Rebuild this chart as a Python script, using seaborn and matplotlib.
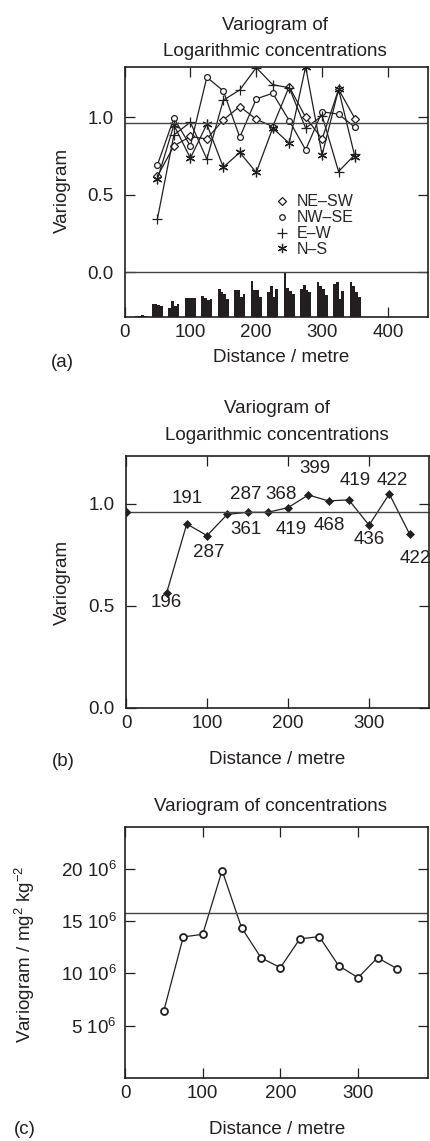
import matplotlib
matplotlib.use('Agg')
import matplotlib.pyplot as plt
from matplotlib.lines import Line2D
import seaborn as sns
import numpy as np
import pandas as pd

# lag distances (m) of the experimental variograms
lags = [50, 75, 100, 125, 150, 175, 200, 225, 250, 275, 300, 325, 350]

# (a) directional variograms of log concentrations
ne_sw = [0.62, 0.815, 0.876, 0.86, 0.983, 1.069, 0.987, 0.94, 1.197, 1.00, 0.86, 1.18, 0.99]
nw_se = [0.693, 0.994, 0.815, 1.258, 1.17, 0.871, 1.118, 1.155, 0.979, 0.79, 1.035, 1.02, 0.935]
e_w = [0.345, 0.886, 0.968, 0.73, 1.11, 1.176, 1.32, 1.21, 1.19, 0.93, 1.01, 0.65, 0.76]
n_s = [0.60, 0.95, 0.736, 0.955, 0.678, 0.773, 0.644, 0.93, 0.833, 1.326, 0.757, 1.18, 0.742]
sill_log = 0.963

# number of pairs per direction (histogram under panel a)
hist_lags = [25, 50, 75, 100, 125, 150, 175, 200, 225, 250, 275, 300, 325, 350]
pairs_ne_sw = [2, 36, 25, 52, 56, 76, 72, 97, 68, 120, 76, 95, 89, 94]
pairs_nw_se = [4, 36, 43, 50, 50, 68, 73, 73, 84, 79, 86, 82, 94, 82]
pairs_e_w = [6, 32, 29, 50, 47, 61, 55, 73, 55, 71, 73, 74, 48, 67]
pairs_n_s = [2, 30, 36, 52, 49, 49, 62, 54, 76, 61, 66, 58, 71, 55]

# (b) omnidirectional variogram of log concentrations
omni_gamma = [0.562, 0.902, 0.845, 0.949, 0.959, 0.959, 0.982, 1.044, 1.015, 1.02, 0.896, 1.049, 0.853]
omni_pairs = [196, 191, 287, 287, 361, 368, 419, 399, 468, 419, 436, 422, 422]
sill_omni = 0.962

# (c) variogram of raw concentrations (mg2 kg-2)
conc_gamma = [6.43e6, 13.49e6, 13.74e6, 19.84e6, 14.38e6, 11.50e6, 10.55e6,
              13.30e6, 13.52e6, 10.74e6, 9.59e6, 11.50e6, 10.46e6]
sill_conc = 15.76e6

sns.set_theme(style='ticks')
plt.rcParams['font.family'] = ['Liberation Sans', 'DejaVu Sans']
plt.rcParams['mathtext.fontset'] = 'custom'
plt.rcParams['mathtext.rm'] = 'Liberation Sans'
plt.rcParams['mathtext.it'] = 'Liberation Sans:italic'

INK = '#231f20'
FS = 13.5
W, H = 430, 1141

fig = plt.figure(figsize=(W / 100, H / 100), dpi=100)


def axes_px(left, top, right, bottom):
    return fig.add_axes([left / W, 1 - bottom / H, (right - left) / W, (bottom - top) / H])


def style_axes(ax, ypad=7):
    for s in ax.spines.values():
        s.set_linewidth(1.2)
        s.set_color(INK)
    ax.tick_params(direction='in', length=7, width=0.9, color=INK, top=True, right=True,
                   labelsize=FS, labelcolor=INK)
    ax.tick_params(axis='y', pad=ypad)
    ax.tick_params(axis='x', pad=5)


def ftext(x, y, s, **kw):
    kw.setdefault('ha', 'center')
    kw.setdefault('va', 'center')
    kw.setdefault('fontsize', FS)
    fig.text(x / W, 1 - y / H, s, color=INK, **kw)


# ---------- (a) ----------
ax = axes_px(124.5, 67, 427.5, 317)
ybot = -0.288
markers = {'NE\u2013SW': ('D', 3.8), 'NW\u2013SE': ('o', 4.2),
           'E\u2013W': ('+', 7), 'N\u2013S': ((6, 2, 0), 7)}
series = {'NE\u2013SW': ne_sw, 'NW\u2013SE': nw_se, 'E\u2013W': e_w, 'N\u2013S': n_s}
for name, vals in series.items():
    m, ms = markers[name]
    sns.lineplot(x=lags, y=vals, ax=ax, color=INK, lw=0.9, marker=m, ms=ms,
                 markerfacecolor='white', markeredgecolor=INK, markeredgewidth=0.9)

pairs = pd.DataFrame({'lag': hist_lags, 'NE-SW': pairs_ne_sw, 'NW-SE': pairs_nw_se,
                      'E-W': pairs_e_w, 'N-S': pairs_n_s})
pmax = pairs[['NE-SW', 'NW-SE', 'E-W', 'N-S']].values.max()
bw = 4.2
for i, col in enumerate(['NE-SW', 'NW-SE', 'E-W', 'N-S']):
    ax.bar(pairs['lag'] + (i - 1.5) * bw, pairs[col] / pmax * (0 - ybot), bottom=ybot,
           width=bw, color=INK, linewidth=0, align='center')

ax.axhline(sill_log, color='#444444', lw=1.0)
ax.axhline(0.0, color='#444444', lw=1.0)
ax.set_xlim(0, 460)
ax.set_ylim(ybot, 1.324)
ax.set_xticks([0, 100, 200, 300, 400])
ax.set_yticks([0.0, 0.5, 1.0])
ax.yaxis.set_major_formatter(matplotlib.ticker.FormatStrFormatter('%.1f'))
style_axes(ax, ypad=8)
handles = [Line2D([], [], ls='none', marker=markers[k][0], ms=markers[k][1] * 0.95,
                  mfc='white', mec=INK, mew=0.9) for k in series]
ax.legend(handles, list(series), loc='upper left', bbox_to_anchor=(0.5, 0.49),
          frameon=False, fontsize=11.5, handlelength=0.8, handletextpad=0.5,
          labelspacing=0.05, borderaxespad=0, borderpad=0)
ax.set_xlabel('')
ax.set_ylabel('')

ftext(275, 30, 'Variogram of', va='baseline')
ftext(275, 55.5, 'Logarithmic concentrations', va='baseline')
ftext(62, 190, 'Variogram', rotation=90)
ftext(281, 358, 'Distance / metre')
ftext(62, 362, '(a)')

# ---------- (b) ----------
ax = axes_px(126, 456, 429, 708)
sns.lineplot(x=lags, y=omni_gamma, ax=ax, color=INK, lw=0.9, marker='D', ms=3.8,
             markerfacecolor=INK, markeredgecolor=INK, markeredgewidth=0.5)
ax.axhline(sill_omni, color='#444444', lw=1.0)
ax.plot([0], [sill_omni], marker='D', ms=3.8, color=INK, clip_on=True)
# label offsets (px): right, up
offs = [(0, -9), (0, 25), (2, -17), (18, 20), (-2, -17), (13, 18), (3, -22),
        (7, 26), (1, -25), (6, 19), (0, -14), (3, 13), (6, -25)]
for xv, yv, n, (dx, dy) in zip(lags, omni_gamma, omni_pairs, offs):
    ax.annotate(str(n), (xv, yv), xytext=(dx * 0.72, dy * 0.72), textcoords='offset points',
                ha='center', va='center', fontsize=FS, color=INK)
ax.set_xlim(0, 374)
ax.set_ylim(0, 1.235)
ax.set_xticks([0, 100, 200, 300])
ax.set_yticks([0.0, 0.5, 1.0])
ax.yaxis.set_major_formatter(matplotlib.ticker.FormatStrFormatter('%.1f'))
style_axes(ax, ypad=8)
ax.set_xlabel('')
ax.set_ylabel('')

ftext(277, 412.7, 'Variogram of', va='baseline')
ftext(277, 440, 'Logarithmic concentrations', va='baseline')
ftext(62, 582, 'Variogram', rotation=90)
ftext(277, 760, 'Distance / metre')
ftext(63, 762, '(b)')

# ---------- (c) ----------
ax = axes_px(125, 827, 428, 1078)
sns.lineplot(x=lags, y=conc_gamma, ax=ax, color=INK, lw=0.9, marker='o', ms=5,
             markerfacecolor='white', markeredgecolor=INK, markeredgewidth=1.3)
ax.axhline(sill_conc, color='#444444', lw=1.0)
ax.set_xlim(0, 390)
ax.set_ylim(0, 24e6)
ax.set_xticks([0, 100, 200, 300])
yt = [5e6, 10e6, 15e6, 20e6]
ax.set_yticks(yt, [f'{v / 1e6:.0f} 10$^6$' for v in yt])
style_axes(ax, ypad=6)
ax.set_xlabel('')
ax.set_ylabel('')

ftext(271, 810.7, 'Variogram of concentrations', va='baseline')
ftext(25, 954, 'Variogram / mg$^2$ kg$^{-2}$', rotation=90)
ftext(277, 1130, 'Distance / metre')
ftext(25, 1130, '(c)')

fig.savefig('out.png', dpi=100)
